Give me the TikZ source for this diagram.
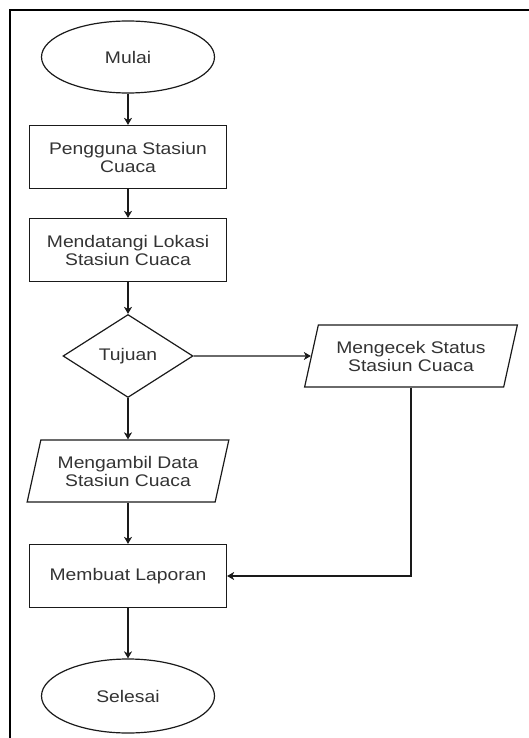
\documentclass[tikz,border=0pt]{standalone}
\usepackage{fontspec}
\setmainfont{Liberation Sans}[FakeStretch=1.15]
\usepackage{tikz}
\usetikzlibrary{arrows.meta, shapes.geometric}

\definecolor{txtgray}{HTML}{333333}
\definecolor{linegray}{HTML}{1A1A1A}

\tikzset{
  base/.style={draw=linegray, line width=1.2pt, text=txtgray, align=center,
    font=\fontsize{16.8}{18}\selectfont, inner sep=0pt},
  terminal/.style={base, ellipse, minimum width=173, minimum height=72},
  process/.style={base, rectangle, minimum width=197, minimum height=63},
  decision/.style={base, diamond, minimum width=130, minimum height=83},
  io/.style={base, trapezium, trapezium left angle=70, trapezium right angle=110,
    trapezium stretches=true, minimum height=62},
  flow/.style={draw=linegray, line width=1.2pt, -{Stealth[length=7pt,width=8pt,inset=2pt]}}
}

\begin{document}
\begin{tikzpicture}[x=1pt,y=-1pt]
\useasboundingbox (0,0) rectangle (529,738);

% Frame
\draw[line width=2pt] (9.5,738) -- (9.5,10) -- (529,10);

% Main column
\node[terminal] (mulai) at (128,57) {Mulai};
\node[process] (pengguna) at (128,157) {Pengguna Stasiun\\Cuaca};
\node[process] (datang) at (128,250) {Mendatangi Lokasi\\Stasiun Cuaca};
\node[decision] (tujuan) at (128,356) {Tujuan};
\node[io, minimum width=202] (ambil) at (128,471) {Mengambil Data\\Stasiun Cuaca};
\node[process] (laporan) at (128,576) {Membuat Laporan};
\node[terminal, minimum height=74] (selesai) at (128,696) {Selesai};

% Right branch
\node[io, minimum width=213] (cek) at (411,356) {Mengecek Status\\Stasiun Cuaca};
\coordinate (turun) at (cek.south -| cek.center);
\coordinate (belok) at (turun |- laporan.east);

% Arrows
\draw[flow] (mulai.south) -- (pengguna.north);
\draw[flow] (pengguna.south) -- (datang.north);
\draw[flow] (datang.south) -- (tujuan.north);
\draw[flow] (tujuan.south) -- (tujuan.south |- ambil.north);
\draw[flow] (tujuan.east) -- (cek.west);
\draw[flow] (ambil.south -| laporan.north) -- (laporan.north);
\draw[flow] (turun) -- (belok) -- (laporan.east);
\draw[flow] (laporan.south) -- (selesai.north);

\end{tikzpicture}
\end{document}
